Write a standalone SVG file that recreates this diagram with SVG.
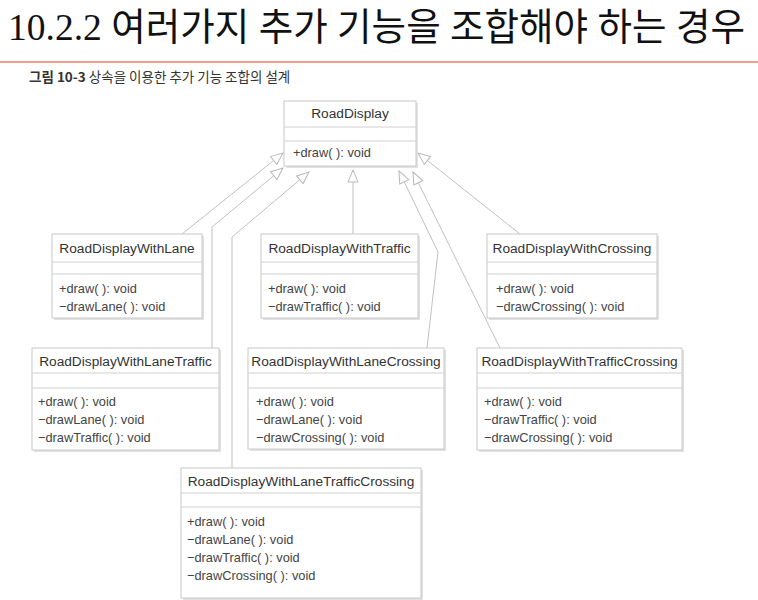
<svg xmlns="http://www.w3.org/2000/svg" width="758" height="600" viewBox="0 0 758 600">
<defs>
<marker id="tri" viewBox="-1 -7 15 14" refX="12" refY="0" markerWidth="15" markerHeight="14" markerUnits="userSpaceOnUse" orient="auto">
<path d="M0,-5 L12,0 L0,5 Z" fill="#fff" stroke="#b8b8b8" stroke-width="1"/>
</marker>
</defs>
<style>
.sh{fill:#e2e2e2;}
.bx{fill:#fff;stroke:#c8c8c8;stroke-width:1;}
.dv{stroke:#d0d0d0;stroke-width:1;}
.nm{font-family:"Liberation Sans",Arial,sans-serif;font-size:13.7px;fill:#333;text-anchor:middle;}
.mt{font-family:"Liberation Sans",Arial,sans-serif;font-size:12.8px;fill:#444;}
.cn{fill:none;stroke:#c0c0c0;stroke-width:1;marker-end:url(#tri);}
</style>
<rect width="758" height="600" fill="#fff"/>
<text x="8" y="40" font-family="'Liberation Serif','Noto Sans CJK KR',serif" font-size="38" fill="#111" textLength="737" lengthAdjust="spacingAndGlyphs">10.2.2 여러가지 추가 기능을 조합해야 하는 경우</text>
<line x1="0" y1="62" x2="758" y2="62" stroke="#f27a6a" stroke-width="1.5"/>
<text x="29" y="82" font-family="'Noto Sans CJK KR',sans-serif" font-size="13.5" fill="#333"><tspan font-weight="bold">그림 10-3</tspan> 상속을 이용한 추가 기능 조합의 설계</text>

<g id="connectors">
<path class="cn" d="M182,234 L283,153"/>
<path class="cn" d="M212,348 L212,227 L283,168"/>
<path class="cn" d="M232,468 L232,237 L309,172"/>
<path class="cn" d="M353,234 L353,170"/>
<path class="cn" d="M427,348 L438,252 L399,171"/>
<path class="cn" d="M500,348 L413,172"/>
<path class="cn" d="M520,234 L418,153"/>
</g>

<g id="RoadDisplay">
<rect class="sh" x="286" y="103" width="132" height="65"/>
<rect class="bx" x="284" y="101" width="132" height="65"/>
<line class="dv" x1="284" y1="127" x2="416" y2="127"/>
<line class="dv" x1="284" y1="141" x2="416" y2="141"/>
<text class="nm" x="350" y="118">RoadDisplay</text>
<text class="mt" x="293" y="157">+draw( ): void</text>
</g>

<g id="RoadDisplayWithLane">
<rect class="sh" x="54" y="236" width="150" height="84"/>
<rect class="bx" x="52" y="234" width="150" height="84"/>
<line class="dv" x1="52" y1="262" x2="202" y2="262"/>
<line class="dv" x1="52" y1="274" x2="202" y2="274"/>
<text class="nm" x="127" y="253">RoadDisplayWithLane</text>
<text class="mt" x="59" y="293">+draw( ): void</text>
<text class="mt" x="59" y="311">−drawLane( ): void</text>
</g>

<g id="RoadDisplayWithTraffic">
<rect class="sh" x="263" y="236" width="157" height="84"/>
<rect class="bx" x="261" y="234" width="157" height="84"/>
<line class="dv" x1="261" y1="262" x2="418" y2="262"/>
<line class="dv" x1="261" y1="274" x2="418" y2="274"/>
<text class="nm" x="339.5" y="253">RoadDisplayWithTraffic</text>
<text class="mt" x="268" y="293">+draw( ): void</text>
<text class="mt" x="268" y="311">−drawTraffic( ): void</text>
</g>

<g id="RoadDisplayWithCrossing">
<rect class="sh" x="489" y="236" width="170" height="84"/>
<rect class="bx" x="487" y="234" width="170" height="84"/>
<line class="dv" x1="487" y1="262" x2="657" y2="262"/>
<line class="dv" x1="487" y1="274" x2="657" y2="274"/>
<text class="nm" x="572" y="253">RoadDisplayWithCrossing</text>
<text class="mt" x="496" y="293">+draw( ): void</text>
<text class="mt" x="496" y="311">−drawCrossing( ): void</text>
</g>

<g id="RoadDisplayWithLaneTraffic">
<rect class="sh" x="34" y="350" width="187" height="102"/>
<rect class="bx" x="32" y="348" width="187" height="102"/>
<line class="dv" x1="32" y1="373" x2="219" y2="373"/>
<line class="dv" x1="32" y1="388" x2="219" y2="388"/>
<text class="nm" x="125.5" y="366">RoadDisplayWithLaneTraffic</text>
<text class="mt" x="38" y="406">+draw( ): void</text>
<text class="mt" x="38" y="424">−drawLane( ): void</text>
<text class="mt" x="38" y="442">−drawTraffic( ): void</text>
</g>

<g id="RoadDisplayWithLaneCrossing">
<rect class="sh" x="250" y="350" width="196" height="101"/>
<rect class="bx" x="248" y="348" width="196" height="101"/>
<line class="dv" x1="248" y1="373" x2="444" y2="373"/>
<line class="dv" x1="248" y1="388" x2="444" y2="388"/>
<text class="nm" x="346" y="366">RoadDisplayWithLaneCrossing</text>
<text class="mt" x="256" y="406">+draw( ): void</text>
<text class="mt" x="256" y="424">−drawLane( ): void</text>
<text class="mt" x="256" y="442">−drawCrossing( ): void</text>
</g>

<g id="RoadDisplayWithTrafficCrossing">
<rect class="sh" x="479" y="350" width="205" height="102"/>
<rect class="bx" x="477" y="348" width="205" height="102"/>
<line class="dv" x1="477" y1="373" x2="682" y2="373"/>
<line class="dv" x1="477" y1="388" x2="682" y2="388"/>
<text class="nm" x="579.5" y="366">RoadDisplayWithTrafficCrossing</text>
<text class="mt" x="484" y="406">+draw( ): void</text>
<text class="mt" x="484" y="424">−drawTraffic( ): void</text>
<text class="mt" x="484" y="442">−drawCrossing( ): void</text>
</g>

<g id="RoadDisplayWithLaneTrafficCrossing">
<rect class="sh" x="183" y="470" width="240" height="130"/>
<rect class="bx" x="181" y="468" width="240" height="130"/>
<line class="dv" x1="181" y1="493" x2="421" y2="493"/>
<line class="dv" x1="181" y1="507" x2="421" y2="507"/>
<text class="nm" x="301" y="486">RoadDisplayWithLaneTrafficCrossing</text>
<text class="mt" x="187" y="526">+draw( ): void</text>
<text class="mt" x="187" y="544">−drawLane( ): void</text>
<text class="mt" x="187" y="562">−drawTraffic( ): void</text>
<text class="mt" x="187" y="580">−drawCrossing( ): void</text>
</g>
</svg>
